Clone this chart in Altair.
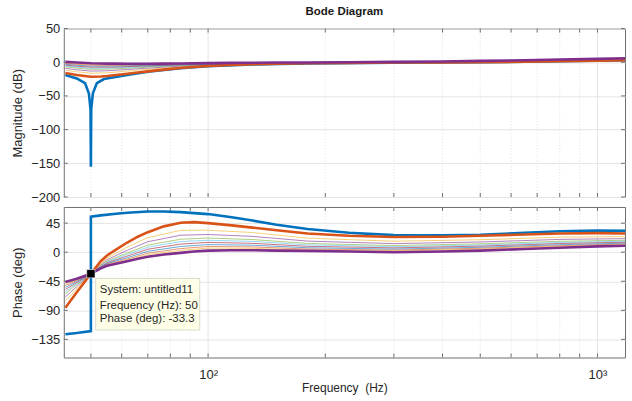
import altair as alt
import pandas as pd

# ---- frequency grid shared by the thin systems (Hz) ----
FREQ = [43, 46, 50, 55, 62, 70, 85, 100, 130, 180, 300, 500, 800, 1180]

# ---- system 1: deep notch at 50 Hz ----
SYS1_MAG_FREQ = [43, 46, 48.3, 49.4, 49.9, 50, 50.1, 50.6, 51.8, 54, 62, 70, 85, 100, 130, 180, 300, 500, 800, 1180]
SYS1_MAG = [-19, -24, -31, -46, -70, -155, -70, -46, -31, -25, -19, -14, -9, -6, -3.2, -1.7, -0.6, 0, 1.5, 3]
SYS1_PHASE_FREQ = [43, 46, 50, 50, 53, 58, 62, 70, 77, 85, 92, 100, 115, 130, 150, 180, 230, 300, 400, 500, 650, 800, 1000, 1180]
SYS1_PHASE = [-127, -125, -122, 55, 57, 59.5, 61, 63, 63, 62, 60.5, 59, 54, 49, 42.5, 36, 30, 26.5, 26, 27, 30, 32.5, 33.5, 33]

# ---- thick systems 2 and 11 on a finer grid ----
THICK_FREQ = [43, 46, 50, 53, 55, 58, 62, 66, 70, 77, 85, 92, 100, 115, 130, 150, 180, 230, 300, 400, 500, 650, 800, 1000, 1180]
SYS2_MAG = [-16, -19, -21.5, -21.2, -20.5, -19, -17, -15.2, -13.5, -11, -8.5, -7, -5.5, -4, -3, -2.2, -1.5, -0.9, -0.5, -0.2, 0, 0.7, 1.5, 2.3, 3]
SYS2_PHASE = [-86, -62, -33.3, -14, -5, 4, 15, 24, 31, 40, 45.5, 46.5, 45, 41.5, 38, 34, 29, 25.5, 23.5, 24, 25.5, 27.5, 29, 29.5, 29]
SYS11_MAG = [0.5, -0.5, -1.5, -1.8, -2, -2.1, -2.2, -2.2, -2.2, -2, -1.8, -1.5, -1.3, -1, -0.8, -0.5, -0.3, 0, 0.5, 1.2, 2, 3, 4, 5, 6]
SYS11_PHASE = [-46, -41, -33.3, -25, -21, -18, -14, -10, -7, -3.5, -1, 1, 2.5, 3, 3, 2.5, 2, 1, 0, 1, 2.5, 5, 7, 9, 10]

# ---- magnitude (dB), thin systems 3..10 ----
MAG_SYS3 = [-11.7, -14.2, -16.3, -15.7, -13.2, -10.6, -6.8, -4.4, -2.4, -1.2, -0.2, 0.5, 2.2, 3.8]
MAG_SYS4 = [-9.1, -11.2, -13.1, -12.7, -10.8, -8.8, -5.7, -3.7, -2.1, -1.0, -0.1, 0.8, 2.6, 4.3]
MAG_SYS5 = [-6.9, -8.8, -10.5, -10.3, -8.9, -7.3, -4.8, -3.2, -1.8, -0.8, 0.0, 1.1, 2.9, 4.7]
MAG_SYS6 = [-5.6, -7.3, -8.9, -8.8, -7.7, -6.4, -4.3, -2.9, -1.6, -0.7, 0.1, 1.3, 3.1, 4.9]
MAG_SYS7 = [-4.3, -5.9, -7.3, -7.4, -6.5, -5.5, -3.7, -2.5, -1.4, -0.6, 0.2, 1.4, 3.3, 5.1]
MAG_SYS8 = [-3.0, -4.4, -5.7, -5.9, -5.3, -4.6, -3.2, -2.2, -1.3, -0.5, 0.3, 1.6, 3.5, 5.4]
MAG_SYS9 = [-1.8, -3.1, -4.3, -4.6, -4.3, -3.8, -2.7, -1.9, -1.1, -0.5, 0.4, 1.7, 3.7, 5.6]
MAG_SYS10 = [-0.8, -2.0, -3.1, -3.5, -3.4, -3.1, -2.3, -1.6, -1.0, -0.4, 0.4, 1.8, 3.8, 5.8]

# ---- phase (deg), thin systems 3..10 ----
PHASE_SYS3 = [-75.6, -56.5, -33.3, -9.2, 7.9, 22.6, 33.8, 34.1, 30.4, 21.7, 17.0, 19.3, 23.3, 24.1]
PHASE_SYS4 = [-69.2, -53.2, -33.3, -11.7, 3.0, 16.2, 26.3, 27.4, 24.5, 17.2, 13.3, 15.8, 19.8, 21.0]
PHASE_SYS5 = [-64.0, -50.4, -33.3, -13.8, -1.1, 11.0, 20.1, 21.9, 19.6, 13.6, 10.3, 12.9, 16.9, 18.5]
PHASE_SYS6 = [-60.8, -48.8, -33.3, -15.1, -3.5, 7.8, 16.4, 18.5, 16.7, 11.4, 8.5, 11.1, 15.1, 17.0]
PHASE_SYS7 = [-57.6, -47.1, -33.3, -16.4, -6.0, 4.6, 12.6, 15.2, 13.7, 9.1, 6.7, 9.4, 13.4, 15.5]
PHASE_SYS8 = [-54.4, -45.4, -33.3, -17.6, -8.5, 1.4, 8.9, 11.8, 10.8, 6.9, 4.8, 7.6, 11.6, 14.0]
PHASE_SYS9 = [-51.6, -43.9, -33.3, -18.8, -10.7, -1.4, 5.6, 8.9, 8.2, 4.9, 3.2, 6.1, 10.1, 12.7]
PHASE_SYS10 = [-49.2, -42.7, -33.3, -19.7, -12.5, -3.8, 2.8, 6.4, 6.0, 3.2, 1.8, 4.8, 8.8, 11.5]

SYSTEMS = [f"untitled{i}" for i in range(1, 12)]
COLORS = ["#0072BD", "#D95319", "#EDB120", "#7E2F8E", "#77AC30", "#4DBEEE",
          "#A2142F", "#0072BD", "#D95319", "#EDB120", "#7E2F8E"]
THICK = ["untitled1", "untitled2", "untitled11"]

MAG_TICKS = [-200, -150, -100, -50, 0, 50]
PHASE_TICKS = [-135, -90, -45, 0, 45]
MAJOR_X = [100, 1000]
MINOR_X = [50, 60, 70, 80, 90, 200, 300, 400, 500, 600, 700, 800, 900]

# data tip on the last system
TIP_SYSTEM = "untitled11"
TIP_FREQ = 50
TIP_PHASE = -33.3

thin_mags = [MAG_SYS3, MAG_SYS4, MAG_SYS5, MAG_SYS6, MAG_SYS7, MAG_SYS8, MAG_SYS9, MAG_SYS10]
thin_phases = [PHASE_SYS3, PHASE_SYS4, PHASE_SYS5, PHASE_SYS6,
               PHASE_SYS7, PHASE_SYS8, PHASE_SYS9, PHASE_SYS10]


def rows(name, freqs, values):
    return [dict(system=name, freq=f, value=v, idx=i)
            for i, (f, v) in enumerate(zip(freqs, values))]


mag_rows = (rows("untitled1", SYS1_MAG_FREQ, SYS1_MAG)
            + rows("untitled2", THICK_FREQ, SYS2_MAG)
            + rows("untitled11", THICK_FREQ, SYS11_MAG))
phase_rows = (rows("untitled1", SYS1_PHASE_FREQ, SYS1_PHASE)
              + rows("untitled2", THICK_FREQ, SYS2_PHASE)
              + rows("untitled11", THICK_FREQ, SYS11_PHASE))
for name, m, p in zip(SYSTEMS[2:10], thin_mags, thin_phases):
    mag_rows += rows(name, FREQ, m)
    phase_rows += rows(name, FREQ, p)
mag_df = pd.DataFrame(mag_rows)
phase_df = pd.DataFrame(phase_rows)

W = 563
H_MAG = 169
H_PH = 151
FONT = "Liberation Sans"
TXT = "#262626"
GRID = "#e4e4e4"

x_scale = alt.Scale(type="log", domain=[42.6, 1177], nice=False)
color = alt.Color("system:N", scale=alt.Scale(domain=SYSTEMS, range=COLORS), legend=None)

x_axis_hidden = alt.Axis(labels=False, ticks=False, domain=False, grid=False, title=None)
x_axis_bottom = alt.Axis(values=MAJOR_X, labelExpr="datum.value == 100 ? '10²' : '10³'",
                         ticks=False, domain=False, grid=False, labelFontSize=13,
                         labelColor=TXT, labelPadding=11, labelFlush=False,
                         title="Frequency\u00a0 (Hz)", titleFontSize=12,
                         titleFontWeight="normal", titleColor=TXT, titlePadding=1)


def y_axis(title, ticks):
    return alt.Axis(values=ticks, grid=True, gridColor=GRID, ticks=False, domain=False,
                    labelFontSize=13, labelColor=TXT, labelPadding=4,
                    title=title, titleFontSize=13, titleFontWeight="normal",
                    titleColor=TXT, titlePadding=6)


def panel(df, y_scale, y_ticks, y_title, x_axis, height, extra=None):
    X = lambda: alt.X("freq:Q", scale=x_scale, axis=x_axis)
    Y = lambda: alt.Y("value:Q", scale=y_scale, axis=y_axis(y_title, y_ticks))

    minor_grid = alt.Chart(pd.DataFrame({"freq": MINOR_X})).mark_rule(
        color="#d9d9d9", strokeWidth=0.8, strokeDash=[1, 2]).encode(x=X())
    major_grid = alt.Chart(pd.DataFrame({"freq": MAJOR_X})).mark_rule(
        color=GRID, strokeWidth=1).encode(x=X())
    xt = pd.DataFrame({"freq": MINOR_X + MAJOR_X})
    top_ticks = alt.Chart(xt).mark_rule(color="#6f6f6f").encode(
        x=X(), y=alt.value(0), y2=alt.value(4))
    bot_ticks = alt.Chart(xt).mark_rule(color="#6f6f6f").encode(
        x=X(), y=alt.value(height), y2=alt.value(height - 4))
    yt = pd.DataFrame({"value": y_ticks})
    left_ticks = alt.Chart(yt).mark_rule(color="#6f6f6f").encode(
        y=Y(), x=alt.value(0), x2=alt.value(4))
    right_ticks = alt.Chart(yt).mark_rule(color="#6f6f6f").encode(
        y=Y(), x=alt.value(W), x2=alt.value(W - 4))

    thin = alt.Chart(df[~df.system.isin(THICK)]).mark_line(
        strokeWidth=1, opacity=0.6, clip=True).encode(
        x=X(), y=Y(), color=color, order="idx:Q")
    layers = [minor_grid, major_grid, top_ticks, bot_ticks, left_ticks, right_ticks, thin]
    for name in THICK:
        layers.append(alt.Chart(df[df.system == name]).mark_line(
            strokeWidth=2.6, clip=True).encode(
            x=X(), y=Y(), color=color, order="idx:Q"))
    if extra:
        layers += extra(X, Y)
    return alt.layer(*layers).properties(width=W, height=height)


def data_tip(X, Y):
    box = pd.DataFrame({"freq": [51.45], "freq2": [95.2], "value": [-40.6], "value2": [-120.4]})
    rect = alt.Chart(box).mark_rect(fill="#FFFFE8", stroke="#cfcfbf", strokeWidth=0.8).encode(
        x=X(), x2="freq2:Q", y=Y(), y2="value2:Q")
    lines = pd.DataFrame({
        "freq": [52.7] * 3,
        "value": [-58.6, -82.9, -103.4],
        "label": [f"System: {TIP_SYSTEM}", f"Frequency (Hz): {TIP_FREQ:g}",
                  f"Phase (deg): {TIP_PHASE}"],
    })
    text = alt.Chart(lines).mark_text(align="left", baseline="middle", fontSize=11.5,
                                      font=FONT, color=TXT).encode(
        x=X(), y=Y(), text="label:N")
    point = alt.Chart(pd.DataFrame({"freq": [TIP_FREQ], "value": [TIP_PHASE]})).mark_square(
        size=70, color="black", opacity=1, stroke="white", strokeWidth=0.6).encode(x=X(), y=Y())
    return [rect, text, point]


mag_panel = panel(mag_df, alt.Scale(domain=[-200, 50], nice=False, zero=False), MAG_TICKS,
                  "Magnitude (dB)", x_axis_hidden, H_MAG).properties(
    title=alt.TitleParams("Bode Diagram", fontSize=11.5, fontWeight="bold", color="#1a1a1a",
                          anchor="middle", frame="group", offset=5))
phase_panel = panel(phase_df, alt.Scale(domain=[-163, 70], nice=False, zero=False), PHASE_TICKS,
                    "Phase (deg)", x_axis_bottom, H_PH, extra=data_tip)

chart = alt.vconcat(mag_panel, phase_panel, spacing=10, bounds="flush").properties(
    padding={"left": 11, "top": 5, "right": 6, "bottom": 8}
).configure(font=FONT).configure_view(stroke="#6f6f6f", strokeWidth=1)

chart.save("out.html", embed_options={"renderer": "svg", "actions": False})
